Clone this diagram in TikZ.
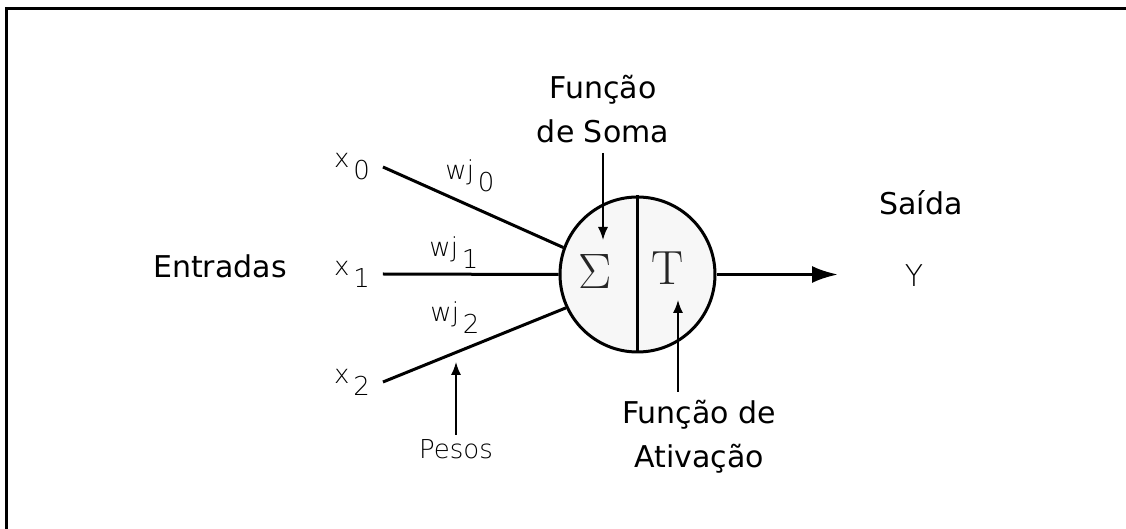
\documentclass[tikz,border=0pt]{standalone}
\usepackage{fontspec}
\newfontfamily\labelfont{DejaVu Sans}
\newfontfamily\lightfont{DejaVu Sans ExtraLight}
\usepackage{tikz}
\usetikzlibrary{arrows.meta, positioning}
\newcommand{\idx}[1]{\hspace{2pt}\raisebox{-6pt}{#1}}

\begin{document}
\begin{tikzpicture}[
  x=0.5pt, y=-0.5pt,
  lbl/.style={font=\labelfont\fontsize{15}{22}\selectfont, align=center, inner sep=0pt},
  wlbl/.style={font=\lightfont\fontsize{13}{15}\selectfont, inner sep=0pt},
  inp/.style={wlbl, outer xsep=6.5pt},
  cell/.style={circle, draw, line width=1.5pt, fill=gray!6, minimum size=77.5pt, inner sep=0pt},
  sym/.style={font=\rmfamily\fontsize{24}{24}\selectfont, text=black!85, inner sep=0pt},
  wire/.style={line width=1.5pt},
  note/.style={-{Latex[length=6.5pt,width=5pt]}, line width=0.75pt},
  arrow/.style={-{Latex[length=13pt,width=8.5pt]}, line width=1.5pt}
]
\useasboundingbox (0,0) rectangle (1126,529);

% Frame
\draw[line width=1.5pt] (6,529) -- (6,8.5) -- (1126,8.5);

% Nodes
\node[cell] (neuron) at (637.5,274.5) {};
\node[sym] (sig) at (595,272) {$\Sigma$};
\node[sym] (tfun) at (668,268) {T};

\node[lbl] (entr) at (220,266) {Entradas};
\node[inp] (x0) at (352,167) {x\idx{0}};
\node[inp] (x1) at (352,274) {x\idx{1}};
\node[inp] (x2) at (352,382) {x\idx{2}};

\node[wlbl] (w0) at (470,176) {wj\idx{0}};
\node[wlbl] (w1) at (454,253) {wj\idx{1}};
\node[wlbl] (w2) at (455,318) {wj\idx{2}};

\coordinate (somatip) at (603,240);
\coordinate (acttip) at (678,300);
\coordinate (pesotip) at (456,362);
\coordinate (outtip) at (838,274.5);

\node[lbl, anchor=south, inner sep=5pt] (soma) at (603,153) {Função\\de Soma};
\node[lbl, anchor=north, inner sep=4pt] (ativ) at (699,392) {Função de\\Ativação};
\node[wlbl, anchor=north, inner sep=2pt] (pesos) at (456,435) {Pesos};

\node[lbl] (saida) at (921,203) {Saída};
\node[wlbl, font=\lightfont\fontsize{15}{17}\selectfont] (yout) at (914,276) {Y};

% Pointers
\draw[wire] (x0.east) -- (neuron.160);
\draw[wire] (x1.east) -- (neuron.180);
\draw[wire] (x2.east) -- (neuron.205);
\draw[wire] (neuron.north) -- (neuron.south);
\draw[arrow] (neuron.east) -- (outtip);

\draw[note] (soma) -- (somatip);
\draw[note] (ativ.north -| acttip) -- (acttip);
\draw[note] (pesos) -- (pesotip);
\end{tikzpicture}
\end{document}
